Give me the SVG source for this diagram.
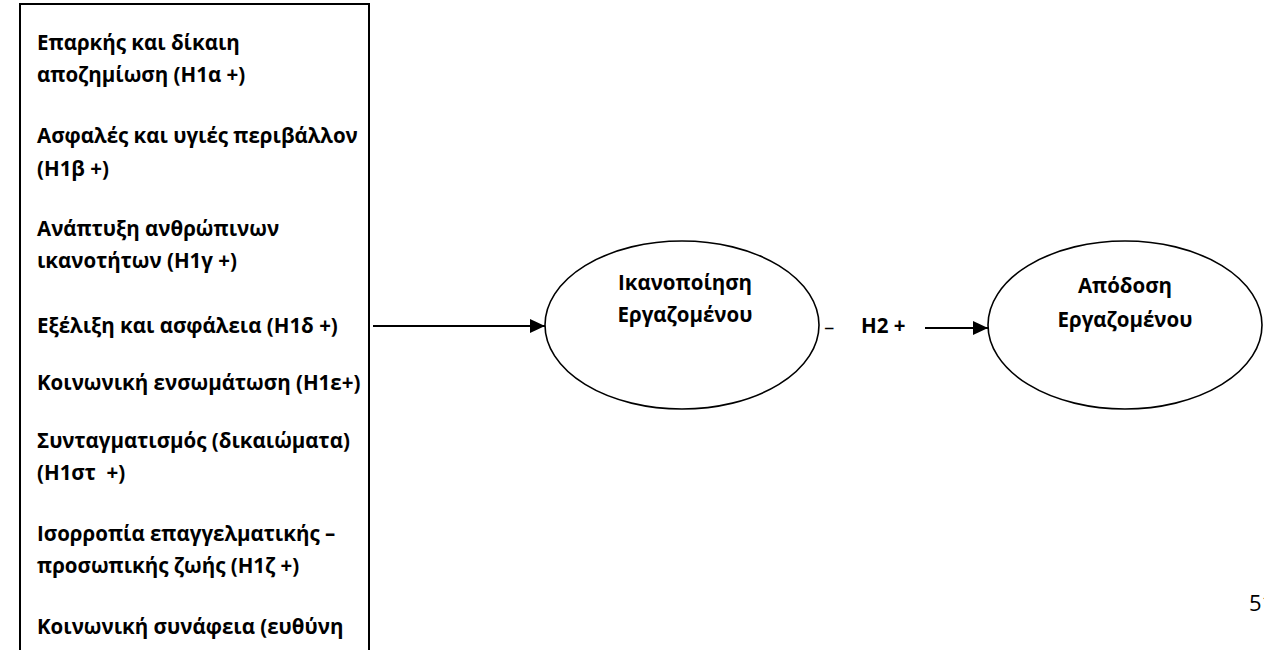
<svg xmlns="http://www.w3.org/2000/svg" width="1264" height="650" viewBox="0 0 1264 650">
<defs>
<style>
.t{font-family:"Open Sans","Noto Sans","DejaVu Sans",sans-serif;font-weight:700;font-size:20.5px;fill:#000}
.c{text-anchor:middle}
.n{font-family:"Open Sans","Noto Sans",sans-serif;font-size:22px;fill:#000}
.ln{stroke:#000;stroke-width:2.2;fill:none}
.sh{stroke:#000;stroke-width:1.6;fill:#fff}
</style>
<marker id="ah" markerWidth="16" markerHeight="14" refX="15" refY="7" orient="auto" markerUnits="userSpaceOnUse">
<path d="M0,0 L15,7 L0,14 Z" fill="#000"/>
</marker>
</defs>
<rect width="1264" height="650" fill="#fff"/>
<g id="factors">
<rect x="20" y="4" width="349" height="700" fill="#fff" stroke="#000" stroke-width="2"/>
<text class="t" x="37" y="50">Επαρκής και δίκαιη</text>
<text class="t" x="37" y="82">αποζημίωση (Η1α +)</text>
<text class="t" x="37" y="143">Ασφαλές και υγιές περιβάλλον</text>
<text class="t" x="37" y="176">(Η1β +)</text>
<text class="t" x="37" y="236">Ανάπτυξη ανθρώπινων</text>
<text class="t" x="37" y="268">ικανοτήτων (Η1γ +)</text>
<text class="t" x="37" y="333">Εξέλιξη και ασφάλεια (Η1δ +)</text>
<text class="t" x="37" y="390">Κοινωνική ενσωμάτωση (Η1ε+)</text>
<text class="t" x="37" y="448">Συνταγματισμός (δικαιώματα)</text>
<text class="t" x="37" y="480" xml:space="preserve">(Η1στ  +)</text>
<text class="t" x="37" y="541">Ισορροπία επαγγελματικής –</text>
<text class="t" x="37" y="573">προσωπικής ζωής (Η1ζ +)</text>
<text class="t" x="37" y="634">Κοινωνική συνάφεια (ευθύνη</text>
</g>
<g id="satisfaction">
<ellipse class="sh" cx="682" cy="325" rx="137" ry="84"/>
<text class="t c" x="685" y="290">Ικανοποίηση</text>
<text class="t c" x="685" y="322">Εργαζομένου</text>
</g>
<g id="performance">
<ellipse class="sh" cx="1125" cy="325" rx="137" ry="84"/>
<text class="t c" x="1125" y="293">Απόδοση</text>
<text class="t c" x="1125" y="327">Εργαζομένου</text>
</g>
<g id="connectors">
<line class="ln" x1="373" y1="326" x2="545" y2="326" marker-end="url(#ah)"/>
<line class="ln" x1="925" y1="328" x2="988" y2="328" marker-end="url(#ah)"/>
<text class="t" x="825" y="326">_</text>
<text class="t" x="861" y="333">H2 +</text>
</g>
<text class="n" x="1249" y="611">51</text>
</svg>
